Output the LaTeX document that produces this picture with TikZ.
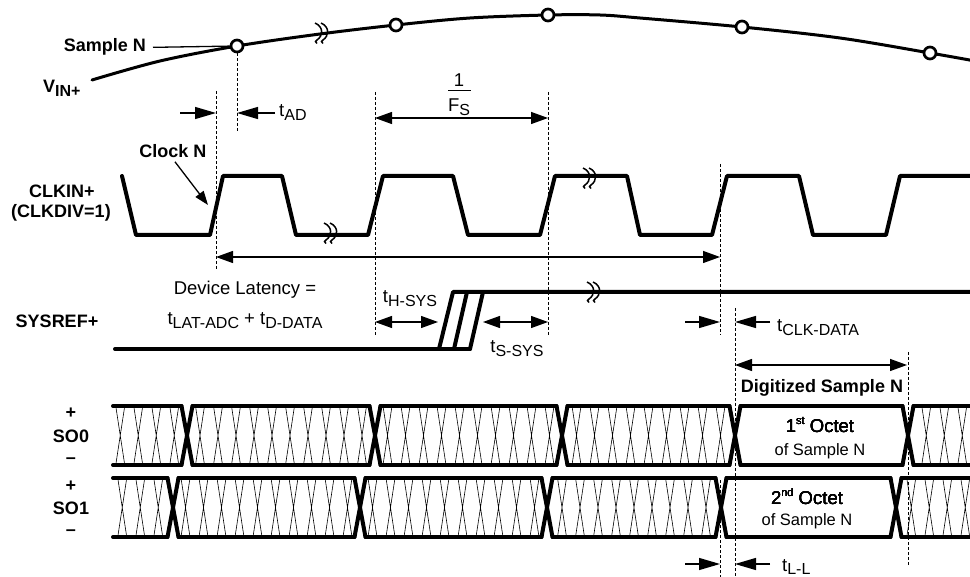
\documentclass[tikz,border=0pt]{standalone}
\usepackage{fontspec}
\setmainfont{Liberation Sans}
\usetikzlibrary{arrows.meta}
\newcommand{\lowsub}[1]{\raisebox{-0.18em}{\fontsize{16}{18}\selectfont #1}}
\newcommand{\upsup}[1]{\raisebox{0.42em}{\fontsize{11}{12}\selectfont #1}}
% crossed filler of an undefined data word between #1 and #2
\newcommand{\hatchrun}[4]{%
  \pgfmathtruncatemacro{\cells}{(#2-#1+5)/18}%
  \pgfmathsetmacro{\lead}{#1+((#2-#1)-(18*\cells-9))/2}%
  \foreach \k in {1,...,\cells}{%
    \pgfmathsetmacro{\xl}{\lead+18*(\k-1)}%
    \draw[Hatch] (\xl,#3) -- (\xl+9,#4) (\xl+9,#3) -- (\xl,#4);%
  }%
}
\tikzset{
  SigLabel/.style = {inner sep=0pt, font=\fontsize{18}{20}\selectfont\bfseries},
  TimeLabel/.style = {inner sep=0pt, font=\fontsize{18.5}{21}\selectfont},
  NoteLabel/.style = {inner sep=0pt, font=\fontsize{16.5}{18}\selectfont},
  Wave/.style = {line width=4pt, line cap=round, line join=round},
  Hatch/.style = {line width=0.6pt},
  Guide/.style = {line width=0.9pt, dash pattern=on 3pt off 2pt},
  Dim/.style = {line width=1.3pt, <->},
  Pinch/.style = {line width=1.3pt, -{Triangle[length=21pt,width=12pt]}},
  Pointer/.style = {line width=1.3pt, -{Triangle[length=14pt,width=10pt]}},
  Sample/.style = {circle, draw, line width=2.7pt, fill=white, minimum size=12pt, inner sep=0pt},
  BreakMark/.pic = {
    \draw[line width=1.5pt] (-5,-10) .. controls (4,-6) and (3,3) .. (-3,7) .. controls (-5,8.5) .. (-3,10.5);
    \draw[line width=1.5pt] (1,-10) .. controls (10,-6) and (9,3) .. (3,7) .. controls (1,8.5) .. (3,10.5);
  }
}

\begin{document}
\begin{tikzpicture}[x=1pt, y=-1pt, >={Triangle[length=17pt,width=12pt]}]
    \useasboundingbox (0,0) rectangle (970,577);

    % analog input and its samples
    \draw[line width=3pt, line cap=round] plot[smooth, tension=0.55] coordinates
        {(92,80) (160,61) (237,46) (320,34) (396,25) (470,18) (548,15) (600,15)
         (640,18) (742,27) (840,38) (930,53) (975,61)};
    \foreach \x/\y [count=\i] in {237/46, 396/25, 548/15, 742/27, 930/53}
        \node[Sample] (s\i) at (\x,\y) {};
    \pic at (320,33) {BreakMark};
    \node[SigLabel, anchor=base east] (sampN) at (146,52) {Sample N};
    \draw[line width=1.3pt] ([xshift=7pt]sampN.east) -- (s1);
    \node[SigLabel, anchor=base west] (vin) at (43,93) {V\lowsub{IN+}};

    % timing guides
    \draw[Guide] (216,91) -- (216,270);
    \draw[Guide] (s1.south) -- (237,133);
    \draw[Guide] (375,92) -- (375,335);
    \draw[Guide] (548,92) -- (548,335);
    \draw[Guide] (720,164) -- (720,335);
    \draw[Guide] (735,308) -- (735,577);
    \draw[Guide] (908,352) -- (908,565);
    \draw[Guide] (720,480) -- (720,577);

    % aperture delay and sample period
    \draw[Pinch] (180,113) -- (216,113);
    \draw[Pinch] (275,113) -- (237,113);
    \node[TimeLabel, anchor=base west] (tad) at (279,117) {t\lowsub{AD}};
    \draw[Dim] (375,118) -- (548,118);
    \node[TimeLabel, anchor=base] (one) at (459,87) {1};
    \node[TimeLabel, anchor=base] (fs) at (459,112) {F\lowsub{S}};
    \draw[line width=1pt] (448,91) -- (471,91);

    % sampling clock
    \draw[Wave] (122,176) -- (136,235) -- (210,235) -- (223,176) -- (282,176) -- (296,235)
        -- (368,235) -- (383,176) -- (453,176) -- (468,235) -- (540,235) -- (555,176)
        -- (627,176) -- (640,235) -- (712,235) -- (727,176) -- (799,176) -- (813,235)
        -- (886,235) -- (900,176) -- (975,176);
    \pic at (329,233) {BreakMark};
    \pic at (588,178) {BreakMark};
    \node[SigLabel] (clkN) at (173,151) {Clock N};
    \draw[Pointer] ([shift={(2,4)}]clkN.south) -- (208,205);
    \node[SigLabel] (clkin) at (62,191) {CLKIN+};
    \node[SigLabel] (clkdiv) at (61,213) {(CLKDIV=1)};

    % latency
    \draw[Dim] (216,257) -- (720,257);
    \node[TimeLabel, anchor=base] (lat) at (245,295) {Device Latency =};
    \node[TimeLabel, anchor=base] (latsum) at (245,325) {t\lowsub{LAT-ADC} + t\lowsub{D-DATA}};

    % SYSREF
    \draw[Wave] (115,349) -- (470,349);
    \draw[Wave] (439,349) -- (453,292) -- (975,292);
    \foreach \b/\t in {454/467, 470/483}
        \draw[Wave] (\b,349) -- (\t,292);
    \pic at (592,292) {BreakMark};
    \node[SigLabel] (sysref) at (57,321) {SYSREF+};
    \draw[Dim] (375,322) -- (438,322);
    \node[TimeLabel, anchor=base] (thsys) at (410,303) {t\lowsub{H-SYS}};
    \draw[Dim] (483,322) -- (548,322);
    \node[TimeLabel, anchor=base] (tssys) at (517,353) {t\lowsub{S-SYS}};
    \draw[Pinch] (685,322) -- (720,322);
    \draw[Pinch] (770,322) -- (735,322);
    \node[TimeLabel, anchor=base west] (tclk) at (777,332) {t\lowsub{CLK-DATA}};

    % digitized sample window
    \draw[Dim] (735,365) -- (907,365);
    \node[SigLabel, anchor=base] (digi) at (822,393) {Digitized Sample N};

    % serial lane 0
    \foreach \a/\b in {113/181.5, 192.5/369.5, 380.5/556.5, 567.5/729.5, 740.5/902.5, 913.5/975}
        \draw[Wave] (\a,406) -- (\b,406) (\a,465) -- (\b,465);
    \foreach \c in {187, 375, 562, 735, 908}
        \draw[Wave] (\c-5.5,406) -- (\c+5.5,465) (\c-5.5,465) -- (\c+5.5,406);
    \foreach \a/\b in {113/181.5, 192.5/369.5, 380.5/556.5, 567.5/729.5, 913.5/975}
        \hatchrun{\a}{\b}{406}{465}
    \node[TimeLabel, anchor=base] (oct1) at (820,432) {1\upsup{st} Octet};
    \node[NoteLabel, anchor=base] (oct1s) at (820,456) {of Sample N};

    % serial lane 1
    \foreach \a/\b in {113/167.5, 178.5/354.5, 365.5/541.5, 552.5/715.5, 726.5/890.5, 901.5/975}
        \draw[Wave] (\a,478) -- (\b,478) (\a,537) -- (\b,537);
    \foreach \c in {173, 360, 547, 721, 896}
        \draw[Wave] (\c-5.5,478) -- (\c+5.5,537) (\c-5.5,537) -- (\c+5.5,478);
    \foreach \a/\b in {113/167.5, 178.5/354.5, 365.5/541.5, 552.5/715.5, 901.5/975}
        \hatchrun{\a}{\b}{478}{537}
    \node[TimeLabel, anchor=base] (oct2) at (807,504) {2\upsup{nd} Octet};
    \node[NoteLabel, anchor=base] (oct2s) at (807,525) {of Sample N};

    % lane names
    \node[SigLabel] (so0p) at (71,413) {+};
    \node[SigLabel] (so0) at (71,436) {SO0};
    \node[SigLabel] (so0m) at (71,461) {--};
    \node[SigLabel] (so1p) at (71,486) {+};
    \node[SigLabel] (so1) at (71,508) {SO1};
    \node[SigLabel] (so1m) at (71,533) {--};

    % lane to lane skew
    \draw[Pinch] (685,564) -- (720,564);
    \draw[Pinch] (770,564) -- (735,564);
    \node[TimeLabel, anchor=base west] (tll) at (782,571) {t\lowsub{L-L}};
\end{tikzpicture}
\end{document}
